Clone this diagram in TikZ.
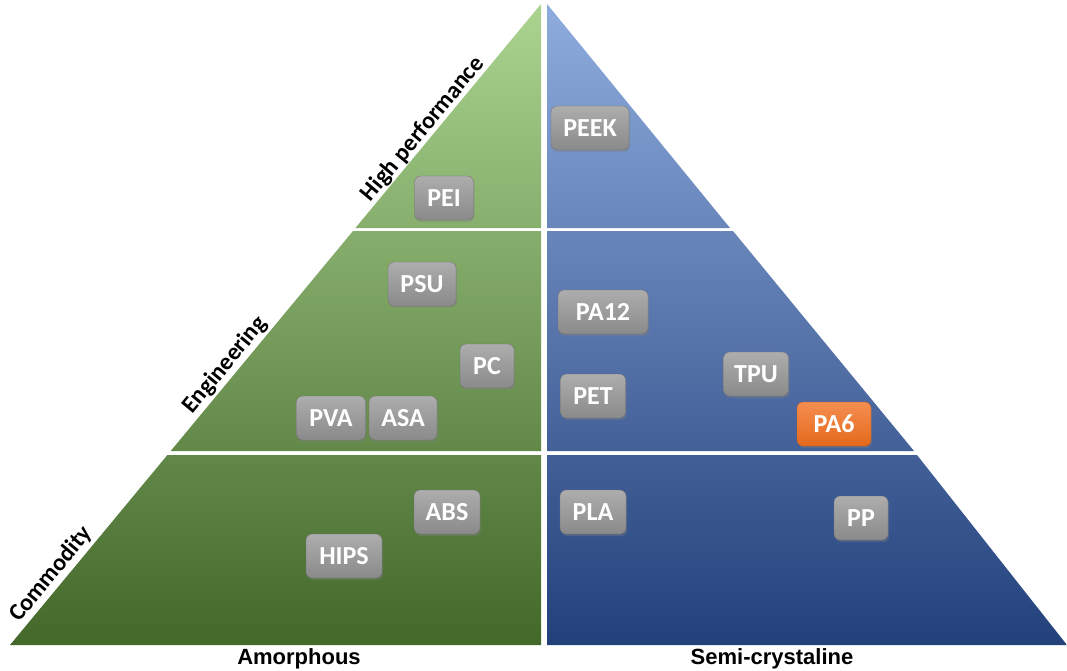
\documentclass[tikz,border=0pt]{standalone}
\usepackage{fontspec}
\setmainfont{Carlito}
\newfontfamily\arialfont{Liberation Sans}
\usetikzlibrary{shadows}
\definecolor{gtop}{HTML}{ABD490}
\definecolor{gbot}{HTML}{43682A}
\definecolor{btop}{HTML}{8FACDE}
\definecolor{bbot}{HTML}{22407A}
\definecolor{chiptop}{HTML}{ADADAD}
\definecolor{chipbot}{HTML}{8A8A8A}
\definecolor{ortop}{HTML}{F48E50}
\definecolor{orbot}{HTML}{E5691C}
\begin{document}
\begin{tikzpicture}[x=1pt,y=-1pt,
  chip/.style={rounded corners=6pt, minimum width=#1, minimum height=44pt,
    top color=chiptop, bottom color=chipbot, draw=chipbot!80!black, line width=0.3pt,
    text=white, font=\fontsize{26}{30}\selectfont\bfseries, inner sep=0pt,
    drop shadow={opacity=0.35, shadow xshift=1.2pt, shadow yshift=-2pt}},
  orchip/.style={chip=#1, top color=ortop, bottom color=orbot, draw=orbot!85!black},
  sidelabel/.style={font=\fontsize{24}{28}\selectfont\bfseries, rotate=50.4, inner sep=0pt},
  baselabel/.style={font=\arialfont\fontsize{22}{26}\selectfont\bfseries, inner sep=0pt}]
\useasboundingbox (0,0) rectangle (1067,671);
% left (amorphous) side
\begin{scope}
\clip (541,4) -- (541,228) -- (355.4,228) -- cycle
      (541,231) -- (541,451) -- (170.7,451) -- (353.0,231) -- cycle
      (541,455) -- (541,645) -- (10,645) -- (167.4,455) -- cycle;
\shade[top color=gtop, bottom color=gbot] (0,4) rectangle (545,645);
\end{scope}
% right (semi-crystalline) side
\begin{scope}
\clip (547,4) -- (730,228) -- (547,228) -- cycle
      (547,231) -- (733,231) -- (914,451) -- (547,451) -- cycle
      (547,455) -- (917,455) -- (1067,645) -- (547,645) -- cycle;
\shade[top color=btop, bottom color=bbot] (545,4) rectangle (1067,645);
\end{scope}
% side labels
\node[sidelabel] (hp) at (423,129) {High performance};
\node[sidelabel] (eng) at (225,365) {Engineering};
\node[sidelabel] (com) at (51,574) {Commodity};
\node[baselabel] (amo) at (299,659) {Amorphous};
\node[baselabel] (semi) at (772,659) {Semi-crystaline};
% material chips
\node[chip=78pt] (peek) at (590,128) {PEEK};
\node[chip=59pt] (pei) at (444,198) {PEI};
\node[chip=68pt] (psu) at (422,284) {PSU};
\node[chip=90pt] (pa12) at (603,312) {PA12};
\node[chip=54pt] (pc) at (487,366) {PC};
\node[chip=65pt] (tpu) at (756,374) {TPU};
\node[chip=65pt] (pet) at (593,396) {PET};
\node[chip=69pt] (pva) at (331,418) {PVA};
\node[chip=68pt] (asa) at (403,418) {ASA};
\node[orchip=74pt] (pa6) at (834,424) {PA6};
\node[chip=66pt] (abs) at (447,512) {ABS};
\node[chip=66pt] (pla) at (593,512) {PLA};
\node[chip=54pt] (pp) at (861,518) {PP};
\node[chip=76pt] (hips) at (344,556) {HIPS};
\end{tikzpicture}
\end{document}
